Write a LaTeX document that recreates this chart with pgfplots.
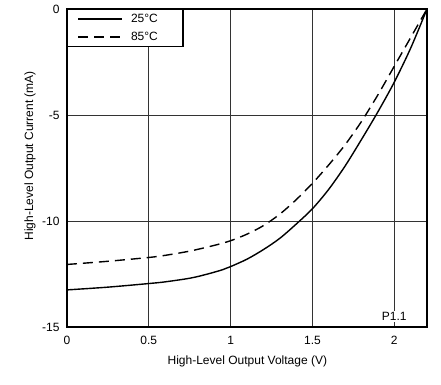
\documentclass[border=0pt]{standalone}
\usepackage{pgfplots}
\pgfplotsset{compat=1.18}
\usepackage{fontspec}
\setmainfont{Liberation Sans}
\newcommand\ff{\fontsize{12bp}{14bp}\selectfont}
\begin{document}
\begin{tikzpicture}
\begin{axis}[
  scale only axis,
  width=360bp, height=318bp,
  xmin=0, xmax=2.2, ymin=-15, ymax=0,
  xtick={0,0.5,1,1.5,2},
  ytick={-15,-10,-5,0},
  xticklabels={0,0.5,1,1.5,2},
  major tick length=0pt,
  grid=major,
  major grid style={draw=black!80, line width=0.7bp},
  axis line style={line width=1.3bp},
  /pgf/number format/assume math mode=true,
  tick label style={font=\ff},
  xticklabel style={yshift=-6bp},
  yticklabel style={xshift=-4bp},
  xlabel={High-Level Output Voltage (V)},
  ylabel={High-Level Output Current (mA)},
  every axis x label/.style={at={(axis description cs:0.501,-0.109)}, anchor=center, font=\ff},
  every axis y label/.style={at={(axis description cs:-0.103,0.538)}, anchor=center, rotate=90, font=\ff},
  legend style={at={(axis description cs:0,1)}, anchor=north west, draw=black, line width=1.3bp,
    font=\ff, cells={anchor=west}, inner xsep=10bp, inner ysep=2.5bp, row sep=4bp,
    /tikz/every odd column/.append style={column sep=6bp}},
  legend image code/.code={\draw[#1] (0bp,0bp) -- (44bp,0bp);},
]
\addplot[black, line width=1.4bp, smooth, tension=0.5] coordinates {
(0,-13.25) (0.25,-13.12) (0.5,-12.95) (0.6,-12.87) (0.75,-12.7) (0.85,-12.52) (0.95,-12.3)
(1.0,-12.15) (1.1,-11.8) (1.2,-11.35) (1.3,-10.82) (1.4,-10.15) (1.5,-9.42) (1.6,-8.5)
(1.7,-7.4) (1.8,-6.15) (1.9,-4.85) (2.0,-3.45) (2.1,-1.85) (2.2,0)
};
\addlegendentry{\makebox[40bp][l]{25°C}}
\addplot[black, line width=1.4bp, dash pattern=on 10bp off 6bp, smooth, tension=0.5] coordinates {
(0,-12.05) (0.25,-11.9) (0.5,-11.72) (0.6,-11.62) (0.75,-11.42) (0.9,-11.15) (1.0,-10.93)
(1.1,-10.62) (1.2,-10.22) (1.3,-9.68) (1.4,-9.0) (1.5,-8.22) (1.6,-7.35) (1.7,-6.4)
(1.8,-5.3) (1.9,-4.05) (2.0,-2.7) (2.1,-1.35) (2.2,0)
};
\addlegendentry{\makebox[40bp][l]{85°C}}
\node[fill=white, inner sep=1.5bp, font=\ff] at (axis cs:2,-14.5) {P1.1};
\end{axis}
\pgfresetboundingbox
\path (current axis.south west) ++(-67bp,-58bp) rectangle ++(441bp,385bp);
\end{tikzpicture}
\end{document}
